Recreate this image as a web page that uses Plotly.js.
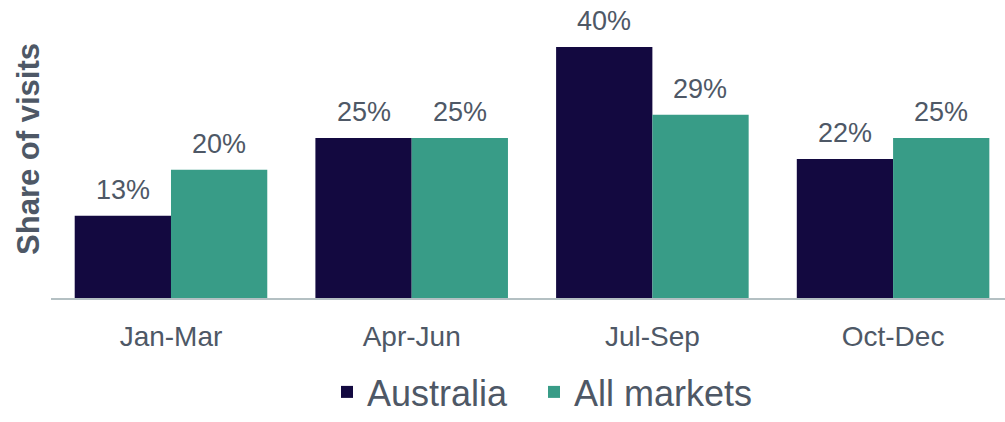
<!DOCTYPE html>
<html>
<head>
<meta charset="utf-8">
<script src="https://cdn.plot.ly/plotly-3.0.1.min.js"></script>
<style>html,body{margin:0;padding:0;background:#fff;}#chart{width:1005px;height:422px;}</style>
</head>
<body>
<div id="chart"></div>
<script>
const categories = ["Jan-Mar", "Apr-Jun", "Jul-Sep", "Oct-Dec"];
const australia = [13.0, 25.3, 39.7, 22.0];
const allMarkets = [20.3, 25.3, 29.0, 25.3];
const seriesNames = ["Australia", "All markets"];

const textColor = "#4e5866";
const font = "Arial, 'Liberation Sans', sans-serif";
const colors = ["#130940", "#389c87"];

const traces = [
  {type: "bar", name: seriesNames[0], x: categories, y: australia, marker: {color: colors[0]}, legend: "legend"},
  {type: "bar", name: seriesNames[1], x: categories, y: allMarkets, marker: {color: colors[1]}, legend: "legend2"}
];

// value labels placed above each bar via the data coordinates
const annotations = [];
[australia, allMarkets].forEach((vals, s) => {
  vals.forEach((v, i) => {
    annotations.push({
      x: categories[i], y: v, xref: "x", yref: "y",
      xshift: s === 0 ? -48 : 48, yshift: 9,
      text: Math.round(v) + "%", showarrow: false, yanchor: "bottom",
      font: {size: 27, color: textColor, family: font}
    });
  });
});

const legendBase = {orientation: "h", xanchor: "left", xref: "container", y: -0.016, yanchor: "bottom", yref: "container",
                    font: {size: 36, color: textColor}, itemwidth: 30, bgcolor: "rgba(0,0,0,0)"};

const layout = {
  width: 1005, height: 422,
  margin: {l: 51, r: 0, t: 0, b: 124},
  paper_bgcolor: "#fff", plot_bgcolor: "#fff",
  font: {family: font, color: textColor},
  barmode: "group", bargap: 0.2, bargroupgap: 0,
  xaxis: {range: [-0.4985, 3.465], showline: true, linecolor: "#b4c0c3", linewidth: 2,
          ticks: "", tickfont: {size: 28, color: textColor}, ticklabelstandoff: 12,
          showgrid: false, zeroline: false, fixedrange: true, automargin: false},
  yaxis: {range: [0, 47.15], showgrid: false, zeroline: false, showticklabels: false, ticks: "",
          title: {text: "<b>Share of visits</b>", font: {size: 31, color: textColor}, standoff: 1}, automargin: false},
  annotations: annotations,
  showlegend: true,
  legend: Object.assign({}, legendBase, {x: 327 / 1005}),
  legend2: Object.assign({}, legendBase, {x: 534 / 1005})
};

Plotly.newPlot("chart", traces, layout, {staticPlot: true, displayModeBar: false});
</script>
</body>
</html>
